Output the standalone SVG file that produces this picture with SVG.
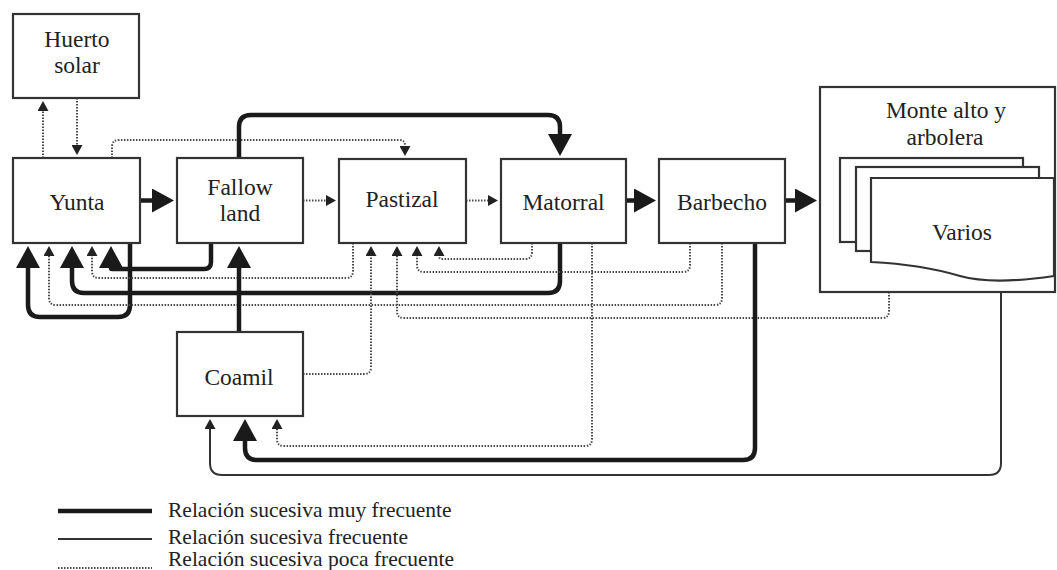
<svg xmlns="http://www.w3.org/2000/svg" width="1057" height="570" viewBox="0 0 1057 570">
<style>
.box{fill:#fff;stroke:#333;stroke-width:2.2}
.lbl{font-size:23.5px;fill:#222;text-anchor:middle}
.leg{font-size:21.5px;fill:#222}
.t{fill:none;stroke:#1a1a1a;stroke-width:4.5}
.m{fill:none;stroke:#333;stroke-width:2}
.d{fill:none;stroke:#4a4a4a;stroke-width:2;stroke-dasharray:1.5 1.5}
</style>
<defs>
<marker id="big" markerUnits="userSpaceOnUse" markerWidth="22" markerHeight="24" viewBox="0 0 22 24" refX="0" refY="12" orient="auto"><path d="M0,0 L22,12 L0,24 z" fill="#1a1a1a"/></marker>
<marker id="small" markerUnits="userSpaceOnUse" markerWidth="10" markerHeight="11" viewBox="0 0 10 11" refX="0" refY="5.5" orient="auto"><path d="M0,0 L10,5.5 L0,11 z" fill="#222"/></marker>
</defs>
<rect width="1057" height="570" fill="#fff"/>

<g id="connectors">
<path class="d" d="M43 158 V111" marker-end="url(#small)"/>
<path class="d" d="M77 98 V145" marker-end="url(#small)"/>
<path class="d" d="M112 158 V147 Q112 140 119 140 H399 Q405 140 405 146" marker-end="url(#small)"/>
<path class="t" d="M239 158 V127 Q239 115 251 115 H548 Q560 115 560 127 V134" marker-end="url(#big)"/>
<path class="t" d="M140 200.5 H152" marker-end="url(#big)"/>
<path class="d" d="M303 200.5 H326" marker-end="url(#small)"/>
<path class="d" d="M466 200.5 H488" marker-end="url(#small)"/>
<path class="t" d="M626 200.5 H634" marker-end="url(#big)"/>
<path class="t" d="M785 200.5 H795" marker-end="url(#big)"/>
<path class="t" d="M130 243 V305 Q130 317 118 317 H40 Q28 317 28 305 V268" marker-end="url(#big)"/>
<path class="t" d="M211 243 V262 Q211 269 204 269 H112 Q111 269 111 268" marker-end="url(#big)"/>
<path class="t" d="M560 243 V281 Q560 293 548 293 H84 Q72 293 72 281 V268" marker-end="url(#big)"/>
<path class="d" d="M353 243 V271 Q353 278 346 278 H99 Q92 278 92 271 V256" marker-end="url(#small)"/>
<path class="d" d="M722 243 V298 Q722 305 715 305 H56 Q49 305 49 298 V256" marker-end="url(#small)"/>
<path class="d" d="M532 243 V252 Q532 259 525 259 H442 Q439 259 439 256" marker-end="url(#small)"/>
<path class="d" d="M690 243 V265 Q690 272 683 272 H424 Q417 272 417 265 V256" marker-end="url(#small)"/>
<path class="d" d="M889 292 V311 Q889 318 882 318 H404 Q397 318 397 311 V256" marker-end="url(#small)"/>
<path class="d" d="M303 374 H364 Q371 374 371 367 V256" marker-end="url(#small)"/>
<path class="t" d="M239 332 V268" marker-end="url(#big)"/>
<path class="t" d="M755 243 V448 Q755 460 743 460 H257 Q245 460 245 448 V441" marker-end="url(#big)"/>
<path class="m" d="M1001 292 V463 Q1001 475 989 475 H222 Q210 475 210 463 V429" marker-end="url(#small)"/>
<path class="d" d="M592 243 V439 Q592 446 585 446 H284 Q277 446 277 439 V429" marker-end="url(#small)"/>
</g>

<g font-family="'Liberation Serif', 'DejaVu Serif', serif">
<g id="huerto">
<rect class="box" x="13" y="14" width="126" height="84"/>
<text class="lbl" x="77" y="47">Huerto</text>
<text class="lbl" x="77" y="73">solar</text>
</g>
<g id="yunta">
<rect class="box" x="13" y="158" width="127" height="85"/>
<text class="lbl" x="77" y="210">Yunta</text>
</g>
<g id="fallow">
<rect class="box" x="177" y="158" width="126" height="85"/>
<text class="lbl" x="240" y="195">Fallow</text>
<text class="lbl" x="240" y="221">land</text>
</g>
<g id="pastizal">
<rect class="box" x="339" y="159" width="127" height="84"/>
<text class="lbl" x="402" y="207">Pastizal</text>
</g>
<g id="matorral">
<rect class="box" x="501" y="159" width="125" height="84"/>
<text class="lbl" x="563.5" y="210">Matorral</text>
</g>
<g id="barbecho">
<rect class="box" x="659" y="159" width="126" height="84"/>
<text class="lbl" x="722" y="210">Barbecho</text>
</g>
<g id="monte">
<rect class="box" x="820" y="87" width="235" height="205"/>
<text class="lbl" x="946" y="118">Monte alto y</text>
<text class="lbl" x="945" y="145">arbolera</text>
<rect class="box" x="840" y="158" width="183" height="84"/>
<rect class="box" x="856" y="167" width="183" height="84"/>
<path class="box" d="M871 178 H1054 V276 C1020 281 985 283 960 276 C940 270 910 264 871 262 Z"/>
<text class="lbl" x="962" y="240">Varios</text>
</g>
<g id="coamil">
<rect class="box" x="177" y="332" width="126" height="84"/>
<text class="lbl" x="239" y="385">Coamil</text>
</g>

<g id="legend">
<line class="t" x1="58" y1="511" x2="152" y2="511"/>
<line class="m" x1="58" y1="539" x2="152" y2="539"/>
<line class="d" x1="58" y1="568" x2="152" y2="568"/>
<text class="leg" x="168" y="517">Relación sucesiva muy frecuente</text>
<text class="leg" x="168" y="544">Relación sucesiva frecuente</text>
<text class="leg" x="168" y="566">Relación sucesiva poca frecuente</text>
</g>
</g>
</svg>
